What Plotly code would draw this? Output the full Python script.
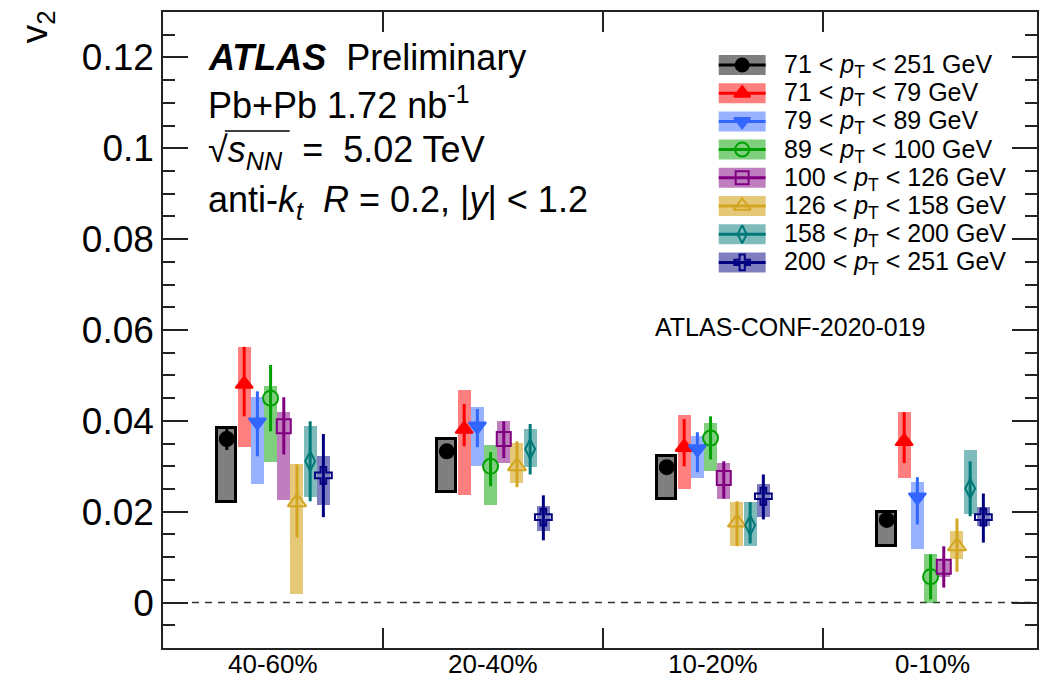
import plotly.graph_objects as go

# ---- data -------------------------------------------------------------
centrality = ["40-60%", "20-40%", "10-20%", "0-10%"]

series_names = [
    "71 < <i>p</i><sub>T</sub> < 251 GeV",
    "71 < <i>p</i><sub>T</sub> < 79 GeV",
    "79 < <i>p</i><sub>T</sub> < 89 GeV",
    "89 < <i>p</i><sub>T</sub> < 100 GeV",
    "100 < <i>p</i><sub>T</sub> < 126 GeV",
    "126 < <i>p</i><sub>T</sub> < 158 GeV",
    "158 < <i>p</i><sub>T</sub> < 200 GeV",
    "200 < <i>p</i><sub>T</sub> < 251 GeV",
]

# central v2 values, one list per pT bin (ordered as centrality)
v2_all = [0.0360, 0.0333, 0.0298, 0.0182]
v2_71_79 = [0.0481, 0.0382, 0.0342, 0.0355]
v2_79_89 = [0.0397, 0.0388, 0.0338, 0.0232]
v2_89_100 = [0.0450, 0.0300, 0.0362, 0.0057]
v2_100_126 = [0.0388, 0.0360, 0.0274, 0.0079]
v2_126_158 = [0.0221, 0.0300, 0.0176, 0.0124]
v2_158_200 = [0.0311, 0.0338, 0.0170, 0.0251]
v2_200_251 = [0.0280, 0.0188, 0.0234, 0.0188]

# statistical uncertainties (upper / lower)
stat_up_all = [0.0024, 0.0012, 0.0012, 0.0010]
stat_dn_all = [0.0024, 0.0012, 0.0012, 0.0010]
stat_up_71_79 = [0.0082, 0.0055, 0.0062, 0.0064]
stat_dn_71_79 = [0.0071, 0.0038, 0.0042, 0.0048]
stat_up_79_89 = [0.0068, 0.0038, 0.0037, 0.0044]
stat_dn_79_89 = [0.0075, 0.0046, 0.0051, 0.0060]
stat_up_89_100 = [0.0073, 0.0031, 0.0048, 0.0049]
stat_dn_89_100 = [0.0073, 0.0044, 0.0047, 0.0050]
stat_up_100_126 = [0.0064, 0.0039, 0.0037, 0.0045]
stat_dn_100_126 = [0.0062, 0.0042, 0.0045, 0.0046]
stat_up_126_158 = [0.0083, 0.0055, 0.0047, 0.0061]
stat_dn_126_158 = [0.0078, 0.0046, 0.0052, 0.0056]
stat_up_158_200 = [0.0088, 0.0055, 0.0051, 0.0060]
stat_dn_158_200 = [0.0088, 0.0056, 0.0040, 0.0061]
stat_up_200_251 = [0.0091, 0.0048, 0.0048, 0.0052]
stat_dn_200_251 = [0.0092, 0.0051, 0.0051, 0.0056]

# systematic bands (upper / lower edges)
sys_hi_all = [0.0384, 0.0360, 0.0322, 0.0199]
sys_lo_all = [0.0221, 0.0243, 0.0227, 0.0124]
sys_hi_71_79 = [0.0563, 0.0468, 0.0413, 0.0419]
sys_lo_71_79 = [0.0342, 0.0236, 0.0249, 0.0274]
sys_hi_79_89 = [0.0452, 0.0430, 0.0366, 0.0265]
sys_lo_79_89 = [0.0262, 0.0300, 0.0274, 0.0117]
sys_hi_89_100 = [0.0477, 0.0346, 0.0395, 0.0108]
sys_lo_89_100 = [0.0309, 0.0214, 0.0289, 0.0000]
sys_hi_100_126 = [0.0419, 0.0399, 0.0307, 0.0093]
sys_lo_100_126 = [0.0225, 0.0307, 0.0229, 0.0057]
sys_hi_126_158 = [0.0304, 0.0351, 0.0221, 0.0157]
sys_lo_126_158 = [0.0018, 0.0263, 0.0124, 0.0095]
sys_hi_158_200 = [0.0388, 0.0382, 0.0221, 0.0335]
sys_lo_158_200 = [0.0232, 0.0298, 0.0124, 0.0194]
sys_hi_200_251 = [0.0322, 0.0212, 0.0260, 0.0210]
sys_lo_200_251 = [0.0214, 0.0157, 0.0188, 0.0168]

values = [v2_all, v2_71_79, v2_79_89, v2_89_100, v2_100_126, v2_126_158, v2_158_200, v2_200_251]
stat_up = [stat_up_all, stat_up_71_79, stat_up_79_89, stat_up_89_100,
           stat_up_100_126, stat_up_126_158, stat_up_158_200, stat_up_200_251]
stat_dn = [stat_dn_all, stat_dn_71_79, stat_dn_79_89, stat_dn_89_100,
           stat_dn_100_126, stat_dn_126_158, stat_dn_158_200, stat_dn_200_251]
sys_hi = [sys_hi_all, sys_hi_71_79, sys_hi_79_89, sys_hi_89_100,
          sys_hi_100_126, sys_hi_126_158, sys_hi_158_200, sys_hi_200_251]
sys_lo = [sys_lo_all, sys_lo_71_79, sys_lo_79_89, sys_lo_89_100,
          sys_lo_100_126, sys_lo_126_158, sys_lo_158_200, sys_lo_200_251]

# ---- style --------------------------------------------------------------
FONT = "Liberation Sans, Arial, Helvetica, sans-serif"
line_colors = ["#000000", "#ff0000", "#3366ff", "#00a000",
               "#800080", "#d4a520", "#007878", "#000080"]
box_colors = ["rgba(0,0,0,0.5)", "rgba(255,0,0,0.5)", "rgba(51,102,255,0.5)",
              "rgba(0,160,0,0.5)", "rgba(128,0,128,0.5)", "rgba(212,165,32,0.6)",
              "rgba(0,120,120,0.5)", "rgba(0,0,128,0.5)"]
symbols = ["circle", "triangle-up", "triangle-down", "circle-open",
           "square-open", "triangle-up-open", "diamond-tall-open", "cross-open"]
marker_sizes = [14, 15, 15, 15, 14, 16, 14, 14]
offsets = [-0.21, -0.131, -0.071, -0.011, 0.049, 0.109, 0.169, 0.229]
box_widths = [0.088] + [0.059] * 7

W, H = 1039, 679
ML, MR, MT, MB = 163, 0, 12, 31
PW, PH = W - ML - MR, H - MT - MB
CAT_PX = 220.5
x_max = -0.5 + PW / CAT_PX


def px_to_paper(px, py):
    return (px - ML) / PW, (H - MB - py) / PH


fig = go.Figure()

# systematic boxes
for s in range(8):
    xs = [i + offsets[s] for i in range(len(centrality))]
    fig.add_trace(go.Bar(
        x=xs,
        y=[h - l for h, l in zip(sys_hi[s], sys_lo[s])],
        base=sys_lo[s],
        width=box_widths[s],
        marker=dict(color=box_colors[s],
                    line=dict(color="black" if s == 0 else "rgba(0,0,0,0)",
                              width=3 if s == 0 else 0)),
        showlegend=False, hoverinfo="skip",
    ))

# points with statistical error bars
for s in range(8):
    xs = [i + offsets[s] for i in range(len(centrality))]
    fig.add_trace(go.Scatter(
        x=xs, y=values[s], mode="markers",
        marker=dict(symbol=symbols[s], size=marker_sizes[s], color=line_colors[s],
                    line=dict(color=line_colors[s], width=2)),
        error_y=dict(type="data", symmetric=False, array=stat_up[s],
                     arrayminus=stat_dn[s], thickness=3, width=0,
                     color=line_colors[s]),
        showlegend=False,
    ))

# legend block (drawn in axis-fraction space on an overlay axis)
leg_top_py, leg_step = 65, 28.2
key_x0, key_x1, key_h = 720, 767, 20
leg_x, leg_y = [], []
shapes = []
annotations = []
for s in range(8):
    py = leg_top_py + s * leg_step
    x0, y0 = px_to_paper(key_x0, py - key_h / 2)
    x1, y1 = px_to_paper(key_x1, py + key_h / 2)
    shapes.append(dict(type="rect", xref="paper", yref="paper", x0=x0, x1=x1,
                       y0=y0, y1=y1, fillcolor=box_colors[s], line=dict(width=0),
                       layer="below"))
    xm0, ym = px_to_paper(key_x0, py)
    shapes.append(dict(type="line", xref="paper", yref="paper", x0=xm0, x1=x1,
                       y0=ym, y1=ym, line=dict(color=line_colors[s], width=3)))
    cx, cy = px_to_paper((key_x0 + key_x1) / 2, py)
    leg_x.append(cx)
    leg_y.append(cy)
    tx, ty = px_to_paper(783, py + 1)
    annotations.append(dict(x=tx, y=ty, xref="paper", yref="paper", text=series_names[s],
                            showarrow=False, xanchor="left", yanchor="middle",
                            font=dict(family=FONT, size=25, color="black")))

for s in range(8):
    fig.add_trace(go.Scatter(
        x=[leg_x[s]], y=[leg_y[s]], xaxis="x2", yaxis="y2", mode="markers",
        marker=dict(symbol=symbols[s], size=marker_sizes[s] - 1, color=line_colors[s],
                    line=dict(color=line_colors[s], width=2)),
        showlegend=False, hoverinfo="skip",
    ))

# dashed zero line
zx0, _ = px_to_paper(192, 0)
shapes.append(dict(type="line", xref="paper", yref="y", x0=zx0, x1=1, y0=0, y1=0,
                   line=dict(color="#333333", width=1.5, dash="7px,6px"), layer="below"))

# centrality labels
for i, c in enumerate(centrality):
    annotations.append(dict(x=i, y=(H - MB - 664) / PH, xref="x", yref="paper", text=c,
                            showarrow=False, xanchor="center", yanchor="middle",
                            font=dict(family=FONT, size=26, color="black")))

# ATLAS info text
info = [
    ("<b><i>ATLAS</i></b>  Preliminary", 57),
    ("Pb+Pb 1.72 nb<sup>-1</sup>", 103),
    ("\u221A<i>s</i><sub><i>NN</i></sub>  =  5.02 TeV", 152),
    ("anti-<i>k</i><sub><i>t</i></sub>  <i>R</i> = 0.2, |<i>y</i>| < 1.2", 202),
]
for txt, py in info:
    tx, ty = px_to_paper(206, py)
    annotations.append(dict(x=tx, y=ty, xref="paper", yref="paper", text=txt,
                            showarrow=False, xanchor="left", yanchor="middle",
                            font=dict(family=FONT, size=36, color="black")))
# overline of the square root
ox0, oy = px_to_paper(225, 131)
ox1, _ = px_to_paper(290, 131)
shapes.append(dict(type="line", xref="paper", yref="paper", x0=ox0, x1=ox1,
                   y0=oy, y1=oy, line=dict(color="black", width=1.5)))

cx_, cy_ = px_to_paper(791, 327)
annotations.append(dict(x=cx_, y=cy_, xref="paper", yref="paper", text="ATLAS-CONF-2020-019",
                        showarrow=False, xanchor="center", yanchor="middle",
                        font=dict(family=FONT, size=25, color="black")))

# y-axis title
vx, vy = px_to_paper(37, 27)
annotations.append(dict(x=vx, y=vy, xref="paper", yref="paper", text="v<sub>2</sub>",
                        showarrow=False, xanchor="center", yanchor="middle", textangle=-90,
                        font=dict(family=FONT, size=37, color="black")))

fig.update_layout(
    width=W, height=H,
    margin=dict(l=ML, r=MR, t=MT, b=MB, pad=0),
    paper_bgcolor="white", plot_bgcolor="white",
    barmode="overlay", bargap=0,
    showlegend=False,
    font=dict(family=FONT, color="black"),
    xaxis=dict(range=[-0.5, x_max], tickvals=[0.5, 1.5, 2.5], ticktext=["", "", ""],
               ticks="inside", ticklen=20, tickwidth=1.5, tickcolor="#222",
               showline=True, linecolor="#222", linewidth=1.5, mirror="ticks",
               showgrid=False, zeroline=False, fixedrange=True),
    yaxis=dict(range=[-0.01, 0.13], tick0=0, dtick=0.02,
               ticks="inside", ticklen=25, tickwidth=1.5, tickcolor="#222",
               minor=dict(dtick=0.005, ticklen=12, ticks="inside", tickcolor="#222",
                          tickwidth=1.5),
               showline=True, linecolor="#222", linewidth=1.5, mirror="ticks",
               showgrid=False, zeroline=False,
               tickfont=dict(family=FONT, size=37, color="black")),
    xaxis2=dict(overlaying="x", range=[0, 1], visible=False, fixedrange=True),
    yaxis2=dict(overlaying="y", range=[0, 1], visible=False, fixedrange=True),
    shapes=shapes,
    annotations=annotations,
)

fig.write_html("out.html")
